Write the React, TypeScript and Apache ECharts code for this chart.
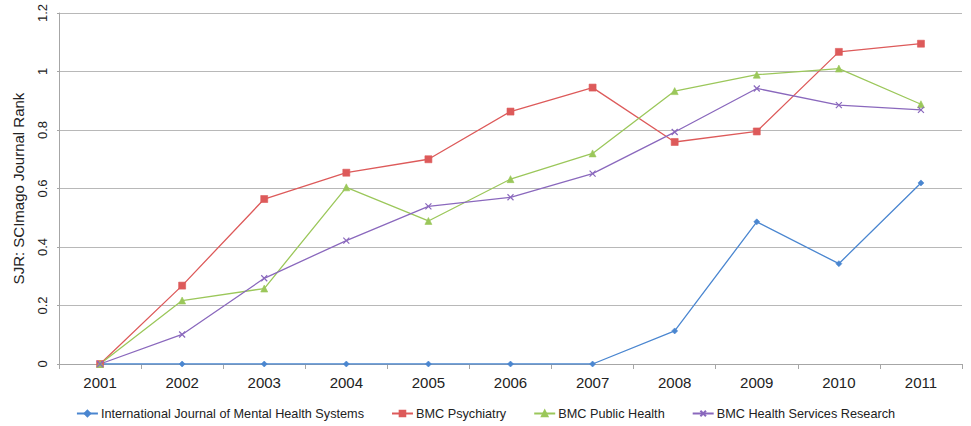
import React, { useEffect, useRef } from "react";
import * as echarts from "echarts";

const years = ["2001", "2002", "2003", "2004", "2005", "2006", "2007", "2008", "2009", "2010", "2011"];
const ijmhs = [0, 0, 0, 0, 0, 0, 0, 0.113, 0.486, 0.343, 0.619];
const bmcPsychiatry = [0, 0.268, 0.564, 0.654, 0.7, 0.863, 0.945, 0.759, 0.795, 1.067, 1.095];
const bmcPublicHealth = [0, 0.217, 0.258, 0.604, 0.489, 0.632, 0.72, 0.933, 0.989, 1.01, 0.888];
const bmcHealthServices = [0, 0.101, 0.293, 0.422, 0.539, 0.57, 0.651, 0.793, 0.942, 0.885, 0.869];

const seriesNames = [
  "International Journal of Mental Health Systems",
  "BMC Psychiatry",
  "BMC Public Health",
  "BMC Health Services Research",
];
const colors = ["#4a86d0", "#dd5a5a", "#9bc75a", "#8a68bd"];

const FONT = "'Liberation Sans', Arial, Helvetica, sans-serif";

export default function App() {
  const ref = useRef<HTMLDivElement>(null);

  useEffect(() => {
    if (!ref.current) return;
    const chart = echarts.init(ref.current, undefined, { renderer: "svg" });
    const mk = (name: string, data: number[], color: string, symbol: string, size: number, extra: any = {}) => ({
      name,
      type: "line",
      data,
      symbol,
      symbolSize: size,
      showSymbol: true,
      lineStyle: { color, width: 1.3 },
      itemStyle: { color, borderColor: color, borderWidth: 0.6, ...extra },
      emphasis: { disabled: true },
    });
    chart.setOption({
      animation: false,
      textStyle: { fontFamily: FONT },
      grid: { left: 59, right: 9, top: 13, bottom: 62, containLabel: false },
      legend: {
        left: "center",
        top: 402,
        itemWidth: 21,
        itemHeight: 7,
        itemGap: 27,
        textStyle: { fontSize: 12.7, color: "#222", fontFamily: FONT, padding: [0, 0, 0, -2] },
        data: seriesNames,
      },
      xAxis: {
        type: "category",
        data: years,
        boundaryGap: true,
        axisLine: { show: true, lineStyle: { color: "#a6a6a6", width: 1 } },
        axisTick: { show: true, length: 5, lineStyle: { color: "#a6a6a6" } },
        axisLabel: { fontSize: 15, color: "#222", margin: 11, fontFamily: FONT },
        splitLine: { show: false },
      },
      yAxis: {
        type: "value",
        min: 0,
        max: 1.2,
        interval: 0.2,
        name: "SJR: SCImago Journal Rank",
        nameLocation: "middle",
        nameRotate: 90,
        nameGap: 33,
        nameTextStyle: { fontSize: 15, color: "#222", fontFamily: FONT },
        axisLine: { show: true, lineStyle: { color: "#a6a6a6", width: 1 } },
        axisTick: { show: true, length: 2, lineStyle: { color: "#a6a6a6" } },
        axisLabel: { fontSize: 13, color: "#222", rotate: 90, margin: 10, fontFamily: FONT },
        splitLine: { show: true, lineStyle: { color: "#b8b8b8", width: 1.2 } },
      },
      series: [
        mk(seriesNames[0], ijmhs, colors[0], "diamond", 6),
        mk(seriesNames[1], bmcPsychiatry, colors[1], "rect", 7),
        mk(seriesNames[2], bmcPublicHealth, colors[2], "triangle", 7),
        mk(seriesNames[3], bmcHealthServices, colors[3], "path://M0,0L10,10M10,0L0,10", 6, { borderWidth: 1.2 }),
      ],
    });
    return () => chart.dispose();
  }, []);

  return (
    <div
      ref={ref}
      style={{ position: "absolute", left: 0, top: 0, width: 971, height: 426, background: "#fff" }}
    />
  );
}
